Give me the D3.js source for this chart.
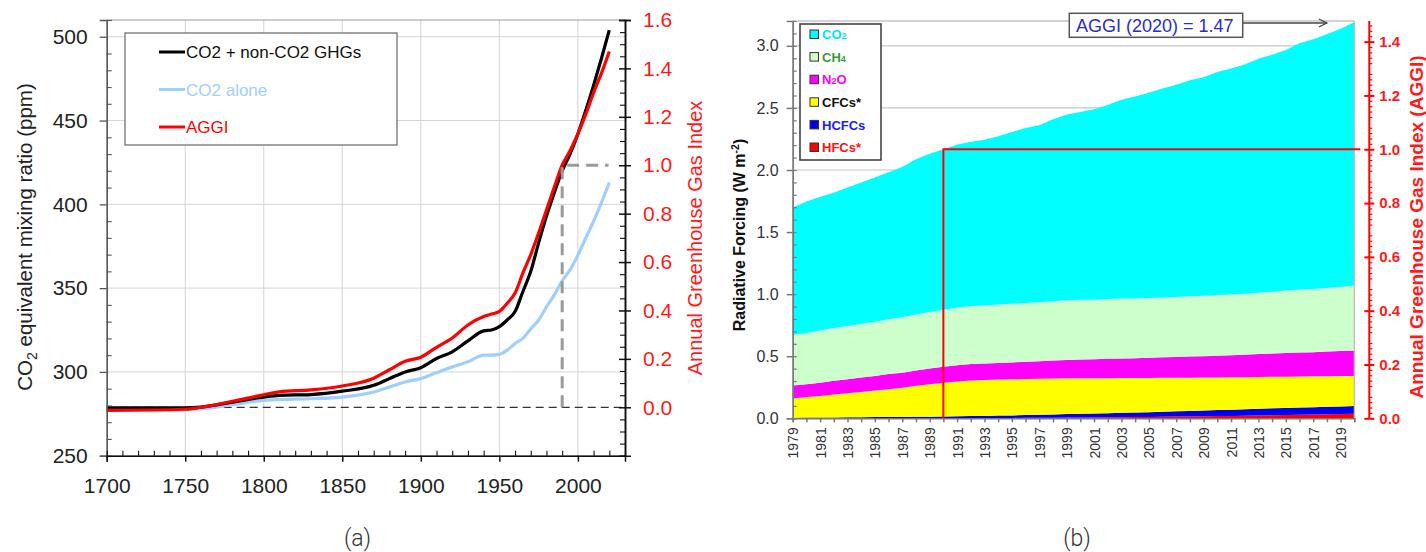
<!DOCTYPE html>
<html>
<head>
<meta charset="utf-8">
<script src="https://cdn.jsdelivr.net/npm/d3@7"></script>
<style>
  body { margin: 0; background: #fff; }
  svg { display: block; }
</style>
</head>
<body>
<svg id="chart" width="1426" height="552"></svg>
<script>
// ---------- Panel (a): CO2-equivalent mixing ratio and AGGI since 1700 ----------
const yearsA   = [1700, 1750, 1760, 1780, 1800, 1810, 1830, 1850, 1870, 1880, 1890, 1900, 1910, 1920, 1930, 1940, 1945, 1950, 1955, 1960, 1965, 1970, 1975, 1980, 1985, 1990, 1995, 2000, 2005, 2010, 2015, 2020];
const co2eqPpm = [278.5, 278.5, 279, 282, 285, 286, 286.5, 288.5, 292, 296, 300, 302.5, 308, 312, 318.5, 324.5, 325, 327, 331, 336, 348, 360, 377, 393, 407, 420, 430, 442, 456, 471, 487, 504];
const co2Ppm   = [277.3, 277.5, 278, 280.5, 283, 283.5, 284, 285, 288, 291, 294, 296, 299.5, 303, 306, 310, 310, 310.5, 313, 317, 320, 325.7, 331, 338.8, 346, 354.4, 360.9, 369.7, 379.9, 389.9, 401, 413];
const aggiA    = [-0.013, -0.008, 0.0, 0.025, 0.052, 0.064, 0.072, 0.088, 0.12, 0.155, 0.19, 0.207, 0.248, 0.286, 0.34, 0.375, 0.385, 0.396, 0.43, 0.472, 0.555, 0.631, 0.72, 0.815, 0.91, 1.0, 1.06, 1.13, 1.21, 1.30, 1.38, 1.47];

const ppmTicks     = [250, 300, 350, 400, 450, 500];
const ppmMinor     = [260, 270, 280, 290, 310, 320, 330, 340, 360, 370, 380, 390, 410, 420, 430, 440, 460, 470, 480, 490, 510];
const yearTicksA   = [1700, 1750, 1800, 1850, 1900, 1950, 2000];
const yearMinorA   = [1710, 1720, 1730, 1740, 1760, 1770, 1780, 1790, 1810, 1820, 1830, 1840, 1860, 1870, 1880, 1890, 1910, 1920, 1930, 1940, 1960, 1970, 1980, 1990, 2010, 2020];
const aggiTicksA   = [0.0, 0.2, 0.4, 0.6, 0.8, 1.0, 1.2, 1.4, 1.6];
const aggiMinorA   = [-0.15, -0.1, -0.05, 0.05, 0.1, 0.15, 0.25, 0.3, 0.35, 0.45, 0.5, 0.55, 0.65, 0.7, 0.75, 0.85, 0.9, 0.95, 1.05, 1.1, 1.15, 1.25, 1.3, 1.35, 1.45, 1.5, 1.55];
const legendA      = ["CO2 + non-CO2 GHGs", "CO2 alone", "AGGI"];
const baseYear     = 1990;

// ---------- Panel (b): radiative forcing by gas, 1979-2020 (W m-2) ----------
const yearsB = [1979, 1980, 1981, 1982, 1983, 1984, 1985, 1986, 1987, 1988, 1989, 1990, 1991, 1992, 1993, 1994, 1995, 1996, 1997, 1998, 1999, 2000, 2001, 2002, 2003, 2004, 2005, 2006, 2007, 2008, 2009, 2010, 2011, 2012, 2013, 2014, 2015, 2016, 2017, 2018, 2019, 2020];
const rfCO2  = [1.027, 1.058, 1.077, 1.089, 1.115, 1.140, 1.162, 1.184, 1.211, 1.250, 1.274, 1.293, 1.313, 1.324, 1.334, 1.356, 1.383, 1.410, 1.426, 1.465, 1.495, 1.513, 1.535, 1.564, 1.601, 1.627, 1.655, 1.685, 1.710, 1.739, 1.760, 1.796, 1.818, 1.846, 1.884, 1.909, 1.938, 1.983, 2.011, 2.044, 2.080, 2.120];
const rfCH4  = [0.406, 0.413, 0.420, 0.426, 0.429, 0.432, 0.437, 0.442, 0.447, 0.451, 0.455, 0.459, 0.463, 0.467, 0.467, 0.470, 0.472, 0.473, 0.474, 0.478, 0.481, 0.481, 0.480, 0.481, 0.482, 0.481, 0.481, 0.481, 0.483, 0.486, 0.487, 0.489, 0.491, 0.492, 0.494, 0.499, 0.504, 0.507, 0.509, 0.512, 0.516, 0.523];
const rfN2O  = [0.104, 0.104, 0.107, 0.111, 0.113, 0.116, 0.118, 0.122, 0.120, 0.123, 0.126, 0.129, 0.131, 0.133, 0.134, 0.134, 0.136, 0.139, 0.142, 0.145, 0.148, 0.151, 0.153, 0.156, 0.158, 0.160, 0.162, 0.165, 0.167, 0.170, 0.172, 0.175, 0.178, 0.181, 0.184, 0.187, 0.190, 0.193, 0.195, 0.199, 0.202, 0.206];
const rfCFC  = [0.155, 0.165, 0.174, 0.184, 0.193, 0.203, 0.213, 0.224, 0.236, 0.250, 0.262, 0.272, 0.280, 0.286, 0.289, 0.290, 0.291, 0.291, 0.290, 0.289, 0.288, 0.286, 0.284, 0.282, 0.280, 0.278, 0.276, 0.273, 0.271, 0.268, 0.266, 0.263, 0.261, 0.258, 0.256, 0.254, 0.252, 0.250, 0.248, 0.246, 0.244, 0.242];
const rfHCFC = [0.005, 0.006, 0.006, 0.007, 0.007, 0.008, 0.009, 0.009, 0.010, 0.011, 0.012, 0.013, 0.014, 0.016, 0.017, 0.019, 0.020, 0.022, 0.024, 0.026, 0.028, 0.030, 0.031, 0.033, 0.035, 0.036, 0.038, 0.040, 0.042, 0.044, 0.046, 0.048, 0.050, 0.052, 0.054, 0.055, 0.056, 0.058, 0.059, 0.060, 0.061, 0.062];
const rfHFC  = [0.000, 0.000, 0.000, 0.000, 0.001, 0.001, 0.001, 0.001, 0.001, 0.001, 0.001, 0.001, 0.002, 0.002, 0.002, 0.003, 0.003, 0.004, 0.004, 0.005, 0.006, 0.006, 0.007, 0.008, 0.009, 0.010, 0.011, 0.013, 0.014, 0.015, 0.016, 0.018, 0.019, 0.021, 0.023, 0.025, 0.027, 0.029, 0.031, 0.033, 0.035, 0.037];

const gasKeys    = ["HFCs", "HCFCs", "CFCs", "N2O", "CH4", "CO2"];          // stacking order, bottom to top
const gasColors  = { CO2: "#00ffff", CH4: "#ccffcc", N2O: "#ff00ff", CFCs: "#ffff00", HCFCs: "#0000f0", HFCs: "#ff0000" };
const legendB    = [
  { key: "CO2",   base: "CO", sub: "2", after: "",  color: "#00e8f0" },
  { key: "CH4",   base: "CH", sub: "4", after: "",  color: "#3a9a3a" },
  { key: "N2O",   base: "N",  sub: "2", after: "O", color: "#ff00ff" },
  { key: "CFCs",  base: "CFCs*", sub: "", after: "", color: "#111111" },
  { key: "HCFCs", base: "HCFCs", sub: "", after: "", color: "#1a1aff" },
  { key: "HFCs",  base: "HFCs*", sub: "", after: "", color: "#ff1010" }
];
const rfTicks    = [0, 0.5, 1.0, 1.5, 2.0, 2.5, 3.0];
const rfMinor    = [0.1, 0.2, 0.3, 0.4, 0.6, 0.7, 0.8, 0.9, 1.1, 1.2, 1.3, 1.4, 1.6, 1.7, 1.8, 1.9, 2.1, 2.2, 2.3, 2.4, 2.6, 2.7, 2.8, 2.9, 3.1];
const aggiTicksB = [0.0, 0.2, 0.4, 0.6, 0.8, 1.0, 1.2, 1.4];
const aggiMinorB = [0.02,0.04,0.06,0.08,0.12,0.14,0.16,0.18,0.22,0.24,0.26,0.28,0.32,0.34,0.36,0.38,0.42,0.44,0.46,0.48,0.52,0.54,0.56,0.58,0.62,0.64,0.66,0.68,0.72,0.74,0.76,0.78,0.82,0.84,0.86,0.88,0.92,0.94,0.96,0.98,1.02,1.04,1.06,1.08,1.12,1.14,1.16,1.18,1.22,1.24,1.26,1.28,1.32,1.34,1.36,1.38,1.42,1.44,1.46];
const labelYearsB = [1979, 1981, 1983, 1985, 1987, 1989, 1991, 1993, 1995, 1997, 1999, 2001, 2003, 2005, 2007, 2009, 2011, 2013, 2015, 2017, 2019];

const FONT = "'Liberation Sans', Arial, Helvetica, sans-serif";
const svg = d3.select("#chart").style("font-family", FONT);

function styleAxis(g, color, width) {
  g.select(".domain").attr("stroke", color).attr("stroke-width", width);
  g.selectAll(".tick line").attr("stroke", color).attr("stroke-width", width);
}

// =================== Panel (a) ===================
const A = { l: 106.7, r: 625, t: 20, b: 455.7 };
const xA = d3.scaleLinear([1700, 2030], [A.l, A.r]);
const yPpm = d3.scaleLinear([250, 510], [A.b, A.t]);
const yAggi = d3.scaleLinear([-0.2, 1.6], [A.b, A.t]);
const gA = svg.append("g");

// grid
gA.append("g").selectAll("line").data(yearTicksA.slice(1)).join("line")
  .attr("x1", d => xA(d)).attr("x2", d => xA(d)).attr("y1", A.t).attr("y2", A.b)
  .attr("stroke", "#d4d4d4").attr("stroke-width", 1);
gA.append("g").selectAll("line").data(ppmTicks.slice(1)).join("line")
  .attr("x1", A.l).attr("x2", A.r).attr("y1", d => yPpm(d)).attr("y2", d => yPpm(d))
  .attr("stroke", "#d4d4d4").attr("stroke-width", 1);
// top frame
gA.append("line").attr("x1", A.l).attr("x2", A.r).attr("y1", A.t).attr("y2", A.t)
  .attr("stroke", "#9a9a9a").attr("stroke-width", 1);

// zero-AGGI reference
gA.append("line").attr("x1", A.l).attr("x2", A.r).attr("y1", yAggi(0)).attr("y2", yAggi(0))
  .attr("stroke", "#333").attr("stroke-width", 1.3).attr("stroke-dasharray", "8,5");

// series lines
const lineA = (vals, scale) => d3.line().curve(d3.curveMonotoneX)
  .x((d, i) => xA(yearsA[i])).y(d => scale(d))(vals);
gA.append("path").attr("d", lineA(co2Ppm, yPpm)).attr("fill", "none").attr("stroke", "#9fcfff").attr("stroke-width", 3.2);
gA.append("path").attr("d", lineA(co2eqPpm, yPpm)).attr("fill", "none").attr("stroke", "#000").attr("stroke-width", 3.2);
gA.append("path").attr("d", lineA(aggiA, yAggi)).attr("fill", "none").attr("stroke", "#ff0000").attr("stroke-width", 3.2);

// 1990 = 1.0 marker
gA.append("path")
  .attr("d", `M${xA(baseYear)},${yAggi(0)}V${yAggi(1)}H${xA(2019.5)}`)
  .attr("fill", "none").attr("stroke", "#9a9a9a").attr("stroke-width", 3).attr("stroke-dasharray", "12,7");

// axes
const axL = gA.append("g").attr("transform", `translate(${A.l},0)`)
  .call(d3.axisLeft(yPpm).tickValues(ppmTicks).tickSize(7).tickPadding(12).tickFormat(d3.format("d")));
styleAxis(axL, "#555", 1.3);
const axLm = gA.append("g").attr("transform", `translate(${A.l},0)`)
  .call(d3.axisLeft(yPpm).tickValues(ppmMinor).tickSize(-5).tickFormat(""));
styleAxis(axLm, "#555", 1.1);
axL.selectAll("text").attr("font-size", 21).attr("fill", "#222");

const axB = gA.append("g").attr("transform", `translate(0,${A.b})`)
  .call(d3.axisBottom(xA).tickValues(yearTicksA).tickSize(6).tickPadding(16).tickFormat(d3.format("d")));
styleAxis(axB, "#111", 1.5);
axB.selectAll("text").attr("font-size", 21).attr("fill", "#222");
const axBm = gA.append("g").attr("transform", `translate(0,${A.b})`)
  .call(d3.axisBottom(xA).tickValues(yearMinorA).tickSize(-5).tickFormat(""));
styleAxis(axBm, "#111", 1.1);

const axR = gA.append("g").attr("transform", `translate(${A.r},0)`)
  .call(d3.axisRight(yAggi).tickValues(aggiTicksA).tickSize(6).tickPadding(12).tickFormat(d3.format(".1f")));
styleAxis(axR, "#111", 1.5);
axR.selectAll("text").attr("font-size", 21).attr("fill", "#ff1a1a");
const axRi = gA.append("g").attr("transform", `translate(${A.r},0)`)
  .call(d3.axisRight(yAggi).tickValues(aggiTicksA).tickSize(-6).tickFormat(""));
styleAxis(axRi, "#111", 1.5);
const axRm = gA.append("g").attr("transform", `translate(${A.r},0)`)
  .call(d3.axisRight(yAggi).tickValues(aggiMinorA).tickSize(-5).tickFormat(""));
styleAxis(axRm, "#111", 1.1);

// axis titles
const tL = gA.append("text").attr("transform", `translate(32,237) rotate(-90)`)
  .attr("text-anchor", "middle").attr("font-size", 20.5).attr("fill", "#222");
tL.append("tspan").text("CO");
tL.append("tspan").text("2").attr("font-size", 14).attr("dy", 5);
tL.append("tspan").text(" equivalent mixing ratio (ppm)").attr("dy", -5);

gA.append("text").attr("transform", `translate(702,238) rotate(-90)`)
  .attr("text-anchor", "middle").attr("font-size", 20).attr("fill", "#ff1a1a")
  .text("Annual Greenhouse Gas Index");

// legend
const legA = gA.append("g");
legA.append("rect").attr("x", 125).attr("y", 33).attr("width", 272).attr("height", 112)
  .attr("fill", "#fff").attr("stroke", "#666").attr("stroke-width", 1.2);
const legColorsA = ["#000", "#9fcfff", "#ff0000"];
const legTextColorsA = ["#111", "#9fcfff", "#ff0000"];
legendA.forEach((t, i) => {
  const y = 52 + i * 37.5;
  legA.append("line").attr("x1", 159).attr("x2", 185).attr("y1", y).attr("y2", y)
    .attr("stroke", legColorsA[i]).attr("stroke-width", 3);
  legA.append("text").attr("x", 186).attr("y", y + 6).attr("font-size", 17)
    .attr("fill", legTextColorsA[i]).text(t);
});

// =================== Panel (b) ===================
const B = { l: 792.7, r: 1354.3, t: 21, b: 418.3 };
const xB = d3.scaleLinear([1979, 2020], [B.l, B.r]);
const yB = d3.scaleLinear([0, 3.2], [B.b, B.t]);
const gB = svg.append("g");

const rows = yearsB.map((yr, i) => ({
  year: yr, CO2: rfCO2[i], CH4: rfCH4[i], N2O: rfN2O[i],
  CFCs: rfCFC[i], HCFCs: rfHCFC[i], HFCs: rfHFC[i]
}));
const totals = rows.map(r => gasKeys.reduce((s, k) => s + r[k], 0));
const totalBase = totals[yearsB.indexOf(baseYear)];
const aggiLatest = totals[totals.length - 1] / totalBase;
const yG = d3.scaleLinear([0, 1], [yB(0), yB(totalBase)]);

// grid
gB.append("g").selectAll("line").data(rfTicks.slice(1)).join("line")
  .attr("x1", B.l).attr("x2", B.r).attr("y1", d => yB(d)).attr("y2", d => yB(d))
  .attr("stroke", "#c6c6c6").attr("stroke-width", 1.2);

// stacked forcing areas
const stacked = d3.stack().keys(gasKeys)(rows);
const area = d3.area().x(d => xB(d.data.year)).y0(d => yB(d[0])).y1(d => yB(d[1]));
gB.append("g").selectAll("path").data(stacked).join("path")
  .attr("d", area).attr("fill", d => gasColors[d.key]);

// frame
gB.append("line").attr("x1", B.l).attr("x2", B.r).attr("y1", B.t).attr("y2", B.t)
  .attr("stroke", "#a8a8a8").attr("stroke-width", 1.2);
gB.append("line").attr("x1", B.r).attr("x2", B.r).attr("y1", B.t).attr("y2", B.b)
  .attr("stroke", "#b8b8b8").attr("stroke-width", 1.2);

// 1990 reference: AGGI = 1
gB.append("path")
  .attr("d", `M${xB(baseYear)},${yB(0)}V${yG(1)}H${B.r + 6}`)
  .attr("fill", "none").attr("stroke", "#ff0000").attr("stroke-width", 2);

// left axis
const bL = gB.append("g").attr("transform", `translate(${B.l},0)`)
  .call(d3.axisLeft(yB).tickValues(rfTicks).tickSize(6).tickPadding(8).tickFormat(d3.format(".1f")));
styleAxis(bL, "#777", 1.5);
bL.selectAll("text").attr("font-size", 16).attr("fill", "#333");
const bLi = gB.append("g").attr("transform", `translate(${B.l},0)`)
  .call(d3.axisLeft(yB).tickValues(rfTicks.concat(rfMinor)).tickSize(-4).tickFormat(""));
styleAxis(bLi, "#777", 1.2);

// bottom axis
const bB = gB.append("g").attr("transform", `translate(0,${B.b})`)
  .call(d3.axisBottom(xB).tickValues(yearsB).tickSize(4).tickFormat(""));
styleAxis(bB, "#777", 1.5);
const bBl = gB.append("g").attr("transform", `translate(0,${B.b})`)
  .call(d3.axisBottom(xB).tickValues(labelYearsB).tickSize(0).tickFormat(d3.format("d")));
bBl.select(".domain").remove();
bBl.selectAll("text").attr("font-size", 14).attr("fill", "#333")
  .attr("transform", "rotate(-90)").attr("text-anchor", "end")
  .attr("x", -9).attr("y", 0).attr("dy", "0.36em");

// right AGGI axis
const bR = gB.append("g").attr("transform", `translate(1369.3,0)`)
  .call(d3.axisRight(yG).tickValues(aggiTicksB).tickSize(5).tickPadding(5).tickFormat(d3.format(".1f")));
bR.select(".domain").attr("d", `M0,${B.b}V${B.t}`);
styleAxis(bR, "#ff0000", 2);
bR.selectAll("text").attr("font-size", 15).attr("font-weight", "bold").attr("fill", "#ff1a1a");
const bRi = gB.append("g").attr("transform", `translate(1369.3,0)`)
  .call(d3.axisRight(yG).tickValues(aggiTicksB).tickSize(-5).tickFormat(""));
bRi.select(".domain").remove();
styleAxis(bRi, "#ff0000", 2);
const bRm = gB.append("g").attr("transform", `translate(1369.3,0)`)
  .call(d3.axisRight(yG).tickValues(aggiMinorB).tickSize(3).tickFormat(""));
bRm.select(".domain").remove();
styleAxis(bRm, "#ff0000", 1.2);

// axis titles
const tB = gB.append("text").attr("transform", `translate(745,235) rotate(-90)`)
  .attr("text-anchor", "middle").attr("font-size", 16).attr("font-weight", "bold").attr("fill", "#111");
tB.append("tspan").text("Radiative Forcing (W m");
tB.append("tspan").text("-2").attr("font-size", 10.5).attr("dy", -6);
tB.append("tspan").text(")").attr("dy", 6);

gB.append("text").attr("transform", `translate(1423,227) rotate(-90)`)
  .attr("text-anchor", "middle").attr("font-size", 19).attr("font-weight", "bold").attr("fill", "#ff1a1a")
  .text("Annual Greenhouse Gas Index (AGGI)");

// legend
const legB = gB.append("g");
legB.append("rect").attr("x", 800).attr("y", 24).attr("width", 81).attr("height", 136)
  .attr("fill", "#fff").attr("stroke", "#444").attr("stroke-width", 1.6);
legendB.forEach((e, i) => {
  const cy = 34.5 + i * 22.6;
  legB.append("rect").attr("x", 810).attr("y", cy - 4.5).attr("width", 8.5).attr("height", 8.5)
    .attr("fill", gasColors[e.key]).attr("stroke", "#333").attr("stroke-width", 1);
  const t = legB.append("text").attr("x", 822).attr("y", cy + 4.7).attr("font-size", 13)
    .attr("font-weight", "bold").attr("fill", e.color);
  t.append("tspan").text(e.base);
  if (e.sub) t.append("tspan").text(e.sub).attr("font-size", 9);
  if (e.after) t.append("tspan").text(e.after);
});

// AGGI annotation
const ann = gB.append("g");
ann.append("line").attr("x1", 1243).attr("x2", xB(2018)).attr("y1", 23).attr("y2", 23)
  .attr("stroke", "#444").attr("stroke-width", 1.3);
ann.append("path").attr("d", `M${xB(2018) - 8},19L${xB(2018)},23L${xB(2018) - 8},27`)
  .attr("fill", "none").attr("stroke", "#444").attr("stroke-width", 1.3);
ann.append("rect").attr("x", 1069.3).attr("y", 13.3).attr("width", 173.4).attr("height", 24)
  .attr("fill", "#fff").attr("stroke", "#555").attr("stroke-width", 1.5);
ann.append("text").attr("x", 1076).attr("y", 31.5).attr("font-size", 18).attr("fill", "#2a2ad0")
  .text(`AGGI (2020) = ${aggiLatest.toFixed(2)}`);

// ---------- panel captions ----------
svg.append("text").attr("x", 357.5).attr("y", 546).attr("text-anchor", "middle")
  .attr("font-family", "Roboto, 'Noto Sans', sans-serif").attr("font-weight", 300)
  .attr("font-size", 23).attr("fill", "#333").text("(a)");
svg.append("text").attr("x", 1077).attr("y", 546).attr("text-anchor", "middle")
  .attr("font-family", "Roboto, 'Noto Sans', sans-serif").attr("font-weight", 300)
  .attr("font-size", 23).attr("fill", "#333").text("(b)");
</script>
</body>
</html>
